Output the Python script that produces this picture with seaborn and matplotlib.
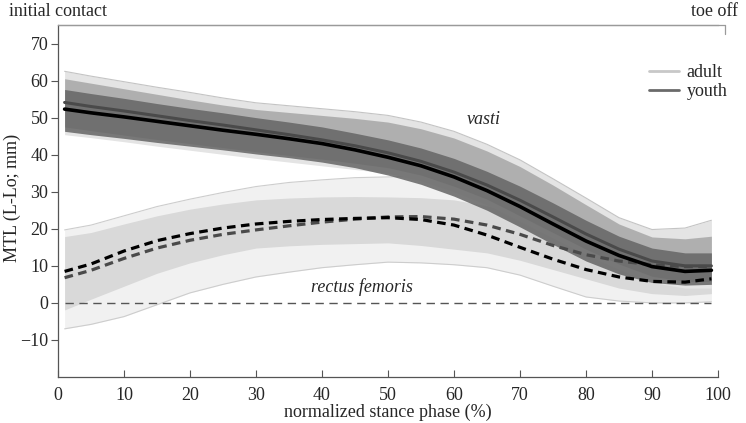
import numpy as np
import pandas as pd
import matplotlib
matplotlib.use("Agg")
import matplotlib.pyplot as plt
from matplotlib.lines import Line2D
import seaborn as sns

# ---------------- data ----------------
phase = [1, 5, 10, 15, 20, 25, 30, 35, 40, 45, 50, 55, 60, 65, 70, 75, 80, 85, 90, 95, 99]

# vasti
vasti_youth_mean = [52.3, 51.3, 50.2, 49.0, 47.8, 46.6, 45.5, 44.3, 43.0, 41.3, 39.3, 37.0, 34.0, 30.3, 26.0, 21.3, 16.7, 12.8, 9.8, 8.5, 8.8]
vasti_adult_mean = [54.1, 53.0, 51.8, 50.5, 49.2, 48.0, 46.7, 45.4, 44.0, 42.4, 40.5, 38.2, 35.3, 31.8, 27.7, 23.2, 18.6, 14.5, 11.3, 10.0, 10.0]
vasti_adult_max = [62.5, 61.2, 59.7, 58.2, 56.8, 55.3, 54.0, 53.2, 52.4, 51.6, 50.6, 48.8, 46.3, 42.8, 38.6, 33.5, 28.3, 23.0, 19.8, 20.2, 22.3]
vasti_adult_hi = [60.5, 59.3, 57.8, 56.3, 54.8, 53.4, 52.2, 51.4, 50.6, 49.8, 48.8, 47.0, 44.5, 41.0, 36.8, 31.8, 26.5, 21.3, 17.8, 17.3, 18.0]
vasti_adult_lo = [47.5, 46.5, 45.3, 44.1, 43.0, 41.9, 40.8, 39.8, 38.8, 37.7, 36.5, 34.5, 31.5, 28.0, 23.5, 19.0, 14.5, 10.5, 7.2, 5.8, 5.8]
vasti_adult_min = [45.4, 44.6, 43.5, 42.3, 41.2, 40.1, 39.0, 38.0, 37.0, 36.0, 35.0, 33.0, 30.0, 26.5, 22.0, 17.5, 13.0, 9.0, 5.5, 4.0, 4.0]
vasti_youth_hi = [57.6, 56.5, 55.2, 53.8, 52.5, 51.3, 50.0, 48.8, 47.5, 45.8, 44.0, 41.8, 39.0, 35.5, 31.5, 27.0, 22.3, 18.0, 14.8, 13.5, 13.5]
vasti_youth_lo = [46.3, 45.4, 44.4, 43.3, 42.3, 41.3, 40.2, 39.2, 38.0, 36.5, 34.5, 32.0, 28.8, 25.0, 20.5, 15.8, 11.3, 7.8, 5.5, 4.8, 5.0]

# rectus femoris
rf_youth_mean = [8.5, 10.5, 14.0, 16.8, 18.7, 20.2, 21.3, 22.0, 22.5, 22.8, 23.0, 22.5, 21.0, 18.3, 15.0, 11.8, 9.0, 7.0, 5.8, 5.6, 6.5]
rf_adult_mean = [6.8, 8.8, 12.0, 14.8, 16.9, 18.5, 19.7, 20.8, 21.8, 22.6, 23.2, 23.3, 22.6, 21.0, 18.5, 15.5, 13.0, 11.3, 10.3, 9.8, 9.8]
rf_max = [19.7, 21.0, 23.5, 26.0, 28.0, 29.8, 31.4, 32.5, 33.2, 33.8, 34.0, 34.2, 33.0, 31.0, 28.0, 24.5, 21.0, 17.5, 15.0, 14.5, 15.0]
rf_hi = [17.9, 19.0, 21.3, 23.5, 25.3, 26.7, 27.8, 28.3, 28.6, 28.7, 28.6, 28.4, 27.8, 26.2, 24.0, 20.8, 17.5, 14.5, 12.5, 12.0, 12.5]
rf_lo = [-1.9, 1.0, 4.5, 8.0, 10.8, 13.0, 14.8, 15.4, 15.8, 16.0, 16.2, 15.5, 14.5, 13.5, 11.5, 9.0, 6.5, 4.0, 2.5, 2.0, 2.5]
rf_min = [-7.0, -5.8, -3.7, -0.5, 2.7, 5.0, 7.0, 8.3, 9.5, 10.3, 11.0, 10.8, 10.3, 9.5, 7.5, 4.5, 1.6, 0.5, 0.0, 0.0, 0.3]

zero_x = [1, 99]
zero_y = [0, 0]

xticks = [0, 10, 20, 30, 40, 50, 60, 70, 80, 90, 100]
yticks = [-10, 0, 10, 20, 30, 40, 50, 60, 70]

# ---------------- plot ----------------
sns.set_theme(style="ticks")
plt.rcParams["font.family"] = ["Liberation Serif", "DejaVu Serif"]

FS = 13

fig = plt.figure(figsize=(7.46, 4.23), dpi=100)
ax = fig.add_axes([58 / 746, 1 - 377 / 423, (718 - 58) / 746, (377 - 25) / 423])

x = np.array(phase)
# rectus femoris bands
ax.fill_between(x, rf_min, rf_max, color="#f1f1f1", lw=0, zorder=1)
ax.plot(x, rf_min, color="#cdcdcd", lw=0.8, zorder=1.1)
ax.plot(x, rf_max, color="#cdcdcd", lw=0.8, zorder=1.1)
ax.fill_between(x, rf_lo, rf_hi, color="#d9d9d9", lw=0, zorder=1.2)

# vasti bands
ax.fill_between(x, vasti_adult_min, vasti_adult_max, color="#e4e4e4", lw=0, zorder=2)
ax.plot(x, vasti_adult_max, color="#c4c4c4", lw=0.8, zorder=2.1)
ax.fill_between(x, vasti_adult_lo, vasti_adult_hi, color="#aaaaaa", lw=0, zorder=2.2, alpha=0.9)
ax.fill_between(x, vasti_youth_lo, vasti_youth_hi, color="#656565", lw=0, zorder=2.3, alpha=0.85)

# zero line
ax.plot(zero_x, zero_y, color="#555555", lw=1.0, dashes=(6, 4), zorder=2.5)

df = pd.DataFrame({
    "phase": phase * 4,
    "value": vasti_adult_mean + vasti_youth_mean + rf_adult_mean + rf_youth_mean,
    "curve": ["va"] * len(phase) + ["vy"] * len(phase) + ["ra"] * len(phase) + ["ry"] * len(phase),
})
sns.lineplot(data=df[df.curve == "va"], x="phase", y="value", color="#4a4a4a", lw=2.2, ax=ax, zorder=3)
sns.lineplot(data=df[df.curve == "vy"], x="phase", y="value", color="#000000", lw=2.6, ax=ax, zorder=3.1)
sns.lineplot(data=df[df.curve == "ra"], x="phase", y="value", color="#4a4a4a", lw=2.3, ax=ax, zorder=3)
ax.lines[-1].set_dashes((2.7, 1.7))
sns.lineplot(data=df[df.curve == "ry"], x="phase", y="value", color="#000000", lw=2.3, ax=ax, zorder=3.1)
ax.lines[-1].set_dashes((2.7, 1.7))

ax.set_xlim(0, 100)
ax.set_ylim(-20, 75)
ax.set_xticks(xticks)
ax.set_yticks(yticks)
ax.set_yticklabels(["\u221210" if t < 0 else str(t) for t in yticks])
ax.tick_params(axis="x", direction="in", length=5, width=0.8, color="#555555", labelsize=FS, pad=7)
ax.tick_params(axis="y", direction="out", length=5, width=0.8, color="#555555", labelsize=FS, pad=2)
ax.set_xlabel("normalized stance phase (%)", fontsize=FS, labelpad=0)
ax.set_ylabel("MTL (L-Lo; mm)", fontsize=FS)
ax.yaxis.set_label_coords(-0.056, 0.51)

for s in ["left", "bottom"]:
    ax.spines[s].set_color("#555555")
    ax.spines[s].set_linewidth(0.9)
ax.spines["right"].set_visible(False)
ax.spines["top"].set_color("#9a9a9a")
ax.spines["top"].set_linewidth(0.9)
ax.plot([1.01, 1.01], [0.975, 1.0], transform=ax.transAxes, color="#9a9a9a", lw=0.9, clip_on=False)
ax.plot([0.0, 1.01], [1.0, 1.0], transform=ax.transAxes, color="#9a9a9a", lw=0.9, clip_on=False)

fig.text(9 / 746, 1 - 11 / 423, "initial contact", fontsize=FS, va="center", ha="left")
fig.text(738 / 746, 1 - 11 / 423, "toe off", fontsize=FS, va="center", ha="right")

ax.text(64.5, 49.5, "vasti", style="italic", fontsize=FS, ha="center", va="center")
ax.text(46, 4.3, "rectus femoris", style="italic", fontsize=FS, ha="center", va="center")

handles = [Line2D([], [], color="#c8c8c8", lw=2), Line2D([], [], color="#6a6a6a", lw=2)]
ax.legend(handles, ["adult", "youth"], loc="upper left", bbox_to_anchor=(0.895, 0.888),
          frameon=False, fontsize=FS, handlelength=1.7, handletextpad=0.4, labelspacing=0.1,
          borderaxespad=0, borderpad=0)

fig.savefig("out.png", dpi=100)
